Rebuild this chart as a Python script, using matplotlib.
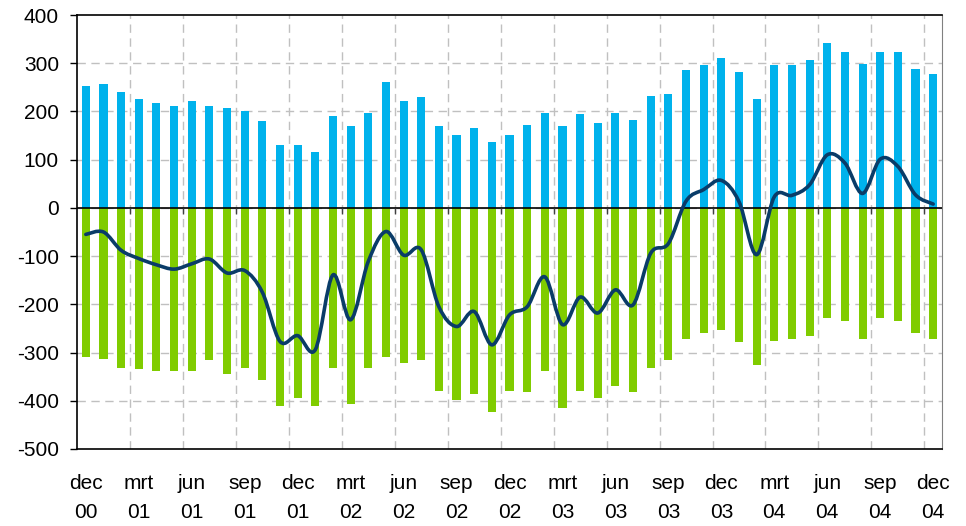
import numpy as np
import matplotlib
matplotlib.use("Agg")
import matplotlib.pyplot as plt
from matplotlib.path import Path
from matplotlib.patches import PathPatch

plt.rcParams['font.family'] = ['Liberation Sans', 'DejaVu Sans']
plt.rcParams['axes.unicode_minus'] = False

# --- Data (monthly, dec 00 .. dec 04) ---
months = ['dec', 'jan', 'feb', 'mrt', 'apr', 'mei', 'jun', 'jul', 'aug', 'sep', 'okt', 'nov']
years = ['00'] + [y for y in ['01', '02', '03', '04'] for _ in range(12)]

positive = [253, 257, 240, 226, 218, 211, 222, 211, 207, 201, 180, 131, 131,
            116, 191, 170, 197, 261, 222, 230, 170, 151, 166, 137, 151,
            172, 197, 170, 195, 176, 197, 182, 232, 236, 286, 296, 311,
            282, 226, 296, 296, 306, 342, 323, 298, 323, 323, 288, 278]

negative = [-310, -314, -331, -335, -339, -339, -339, -316, -345, -331, -356, -410, -395,
            -410, -331, -406, -331, -310, -321, -316, -379, -399, -385, -424, -379,
            -381, -339, -414, -379, -395, -370, -381, -331, -316, -271, -260, -254,
            -279, -325, -275, -271, -265, -229, -234, -271, -229, -234, -260, -271]

balance = [-55, -50, -88, -105, -118, -127, -116, -106, -135, -130, -175, -277, -265,
           -294, -139, -232, -111, -49, -98, -87, -205, -246, -215, -284, -222,
           -205, -143, -242, -185, -218, -170, -201, -94, -74, 14, 38, 57,
           13, -97, 23, 26, 48, 110, 93, 30, 101, 86, 27, 8]

n = len(positive)
x = np.arange(n)
labels = [f"{months[i % 12]}\n{years[i]}" for i in range(n)]

blue = '#00B2EC'
green = '#80CC00'
navy = '#0A3C68'

fig = plt.figure(figsize=(9.66, 5.26), dpi=100)
ax = fig.add_axes([77 / 966, 1 - 449 / 526, 865 / 966, 434 / 526])

ax.bar(x, positive, width=0.46, color=blue, zorder=2)
ax.bar(x, negative, width=0.46, color=green, zorder=2)

# smoothed line (Excel-style bezier through the monthly points)
pts = np.column_stack([x, balance]).astype(float)
verts = [pts[0]]
codes = [Path.MOVETO]
for i in range(n - 1):
    p0 = pts[i - 1] if i > 0 else pts[i]
    p1, p2 = pts[i], pts[i + 1]
    p3 = pts[i + 2] if i + 2 < n else pts[i + 1]
    verts += [p1 + (p2 - p0) / 6, p2 - (p3 - p1) / 6, p2]
    codes += [Path.CURVE4] * 3
ax.add_patch(PathPatch(Path(verts, codes), facecolor='none', edgecolor=navy,
                       lw=2.6, capstyle='round', joinstyle='round', zorder=4))

ax.set_xlim(-0.5, n - 0.5)
ax.set_ylim(-500, 400)
ax.set_yticks(range(-500, 401, 100))

# grid
for v in range(-400, 400, 100):
    ax.axhline(v, color='#C0C0C0', lw=1, ls=(0, (6, 4)), zorder=1)
bounds = np.arange(2.5, n - 1, 3)
for b in bounds:
    ax.axvline(b, color='#C0C0C0', lw=1, ls=(0, (6, 4)), zorder=1)
ax.axhline(0, color='black', lw=1.2, zorder=3)

# small tick marks on the zero line, pointing down
ax.plot(bounds, np.zeros_like(bounds), ls='none', marker=3, ms=4, mew=1,
        color='#404040', zorder=3)

# x labels every quarter
ax.set_xticks(x[::3])
ax.set_xticklabels(labels[::3], linespacing=1.65)
ax.tick_params(axis='x', length=0, pad=18, labelsize=15)
ax.tick_params(axis='y', direction='out', length=5, width=1, labelsize=15, pad=8)

for s in ['left', 'bottom', 'top']:
    ax.spines[s].set_color('black')
    ax.spines[s].set_linewidth(1.2)
ax.spines['right'].set_color('#808080')

fig.savefig('out.png', dpi=100)
